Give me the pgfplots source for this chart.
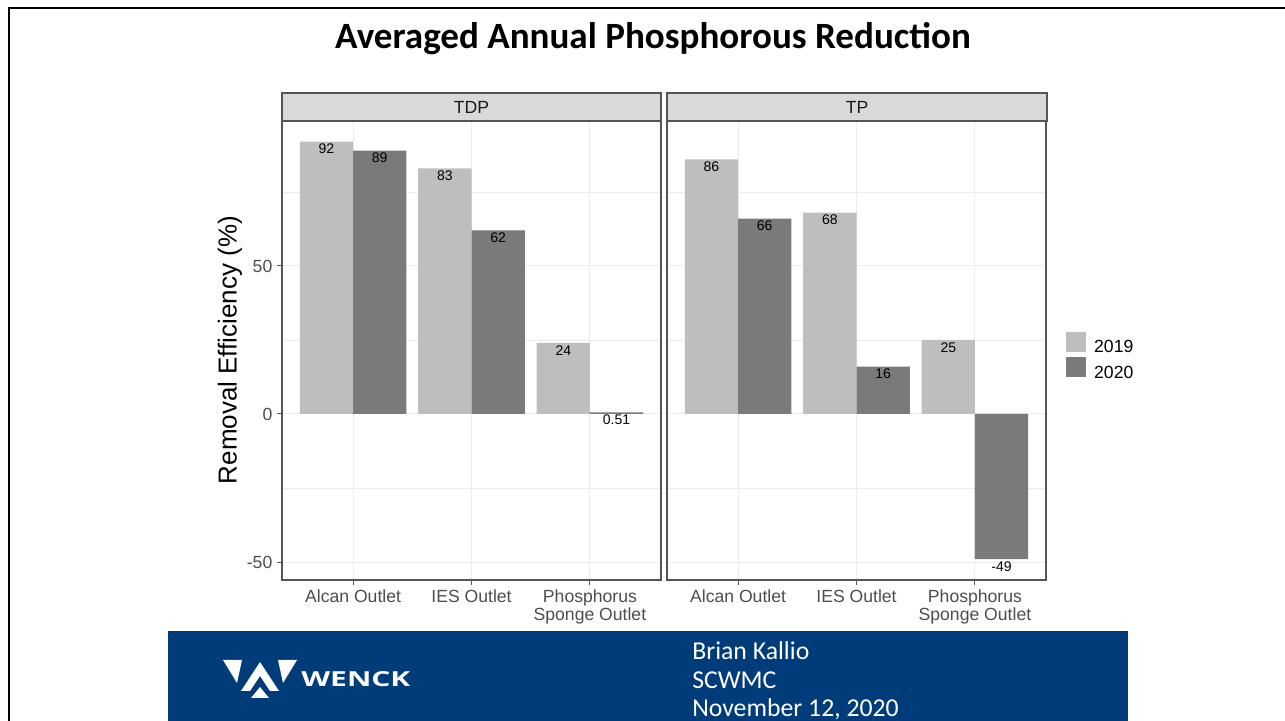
\documentclass[border=0pt]{standalone}
\usepackage{pgfplots}
\pgfplotsset{compat=1.18}
\usepackage{fontspec}
\setmainfont{Liberation Sans}
\newfontfamily\titlefont{Carlito}
\newfontfamily\footfont[FakeStretch=1.0]{Carlito}
\newfontfamily\logofont[FakeStretch=1.45]{Open Sans}
\definecolor{barA}{HTML}{BEBEBE}
\definecolor{barB}{HTML}{7A7A7A}
\definecolor{gridc}{HTML}{EBEBEB}
\definecolor{borderc}{HTML}{555555}
\definecolor{tickc}{HTML}{4D4D4D}
\definecolor{stripc}{HTML}{D9D9D9}
\definecolor{stript}{HTML}{1A1A1A}
\definecolor{wenck}{RGB}{0,60,122}

\pgfplotsset{
 facet/.style={
  scale only axis, width=284.25pt, height=344.25pt,
  xmin=0.4, xmax=3.6, ymin=-56.08, ymax=98.99,
  axis line style={draw=borderc, line width=0.8pt},
  ybar, bar width=0.45,
  every axis plot post/.append style={legend image code/.code={\fill[##1] (0pt,-2.8pt) rectangle (15pt,12.2pt);}},
  xtick={1,2,3},
  xticklabels={Alcan Outlet, IES Outlet, Phosphorus\\Sponge Outlet},
  ytick={-50,0,50},
  yticklabels={-50,0,50},
  minor ytick={-25,25,75},
  grid=both,
  major grid style={gridc, line width=0.75pt},
  minor grid style={gridc, line width=0.4pt},
  tick align=outside,
  tick pos=left,
  major tick length=3.75pt,
  minor tick length=0pt,
  tick style={borderc, line width=0.75pt},
  xticklabel style={align=center, anchor=north, font=\fontsize{13.2}{13.5}\selectfont, text=tickc},
  yticklabel style={font=\fontsize{13.2}{14}\selectfont, text=tickc},
  nodes near coords={\pgfplotspointmeta},
  point meta=explicit symbolic,
  every node near coord/.append style={font=\fontsize{10.5}{12}\selectfont, anchor=north, text=black, inner sep=1.5pt},
 }
}

\begin{document}
\begin{tikzpicture}[x=0.75pt,y=0.75pt]
\path[use as bounding box] (0,0) rectangle (1285,721);
% slide frame
\draw[black, line width=2pt] (9,-2) -- (9,713) -- (1290,713);

% title
\node[font=\titlefont\bfseries\fontsize{27.8}{30}\selectfont] at (653,682) {Averaged Annual Phosphorous Reduction};

% strips
\draw[borderc, fill=stripc, line width=0.8pt] (282,600) rectangle (661,628);
\node[font=\fontsize{13.2}{14}\selectfont, text=stript] at (471.5,614) {TDP};
\draw[borderc, fill=stripc, line width=0.8pt] (667,600) rectangle (1047,628);
\node[font=\fontsize{13.2}{14}\selectfont, text=stript] at (857,614) {TP};

% y label
\node[rotate=90, font=\fontsize{19.5}{20}\selectfont] at (230,371) {Removal Efficiency (\%)};

\begin{axis}[facet, at={(211.5pt,105.75pt)}, anchor=south west]
\addplot[fill=barA, draw=none, bar shift=-0.225] coordinates {(1,92) [92] (2,83) [83] (3,24) [24]};
\addplot[fill=barB, draw=none, bar shift=0.225] coordinates {(1,89) [89] (2,62) [62] (3,0.51) [0.51]};
\end{axis}

\begin{axis}[facet, at={(500.25pt,105.75pt)}, anchor=south west,
  yticklabels={}, ytick style={draw=none},
  legend style={at={(axis description cs:1.0526,0.488)}, anchor=west, draw=none, fill=none,
    inner sep=0pt, font=\fontsize{13.2}{14}\selectfont, row sep=1.5pt, column sep=6pt,
    nodes={inner sep=0pt}}]
\addplot[fill=barA, draw=none, bar shift=-0.225] coordinates {(1,86) [86] (2,68) [68] (3,25) [25]};
\addplot[fill=barB, draw=none, bar shift=0.225] coordinates {(1,66) [66] (2,16) [16] (3,-49) [-49]};
\legend{2019,2020}
\end{axis}

% footer
\fill[wenck] (168,0) rectangle (1128,90);
\node[anchor=base west, text=white, font=\footfont\fontsize{19.3}{19}\selectfont, inner sep=0pt] at (692,61) {Brian Kallio};
\node[anchor=base west, text=white, font=\footfont\fontsize{19.3}{19}\selectfont, inner sep=0pt] at (692,32) {SCWMC};
\node[anchor=base west, text=white, font=\footfont\fontsize{19.3}{19}\selectfont, inner sep=0pt] at (692,4) {November 12, 2020};
% logo
\fill[white] (223,61) -- (242,61) -- (237,38) -- cycle;
\fill[white] (278,61) -- (297,61) -- (283,38) -- cycle;
\fill[white] (241,30) -- (260,59) -- (279,30) -- (270,30) -- (260,45) -- (250,30) -- cycle;
\fill[white] (251,23) -- (269,23) -- (260,34) -- cycle;
\node[anchor=base west, text=white, font=\logofont\bfseries\fontsize{15.5}{16}\selectfont, inner sep=0pt] at (301,34) {WENCK};
\end{tikzpicture}
\end{document}
